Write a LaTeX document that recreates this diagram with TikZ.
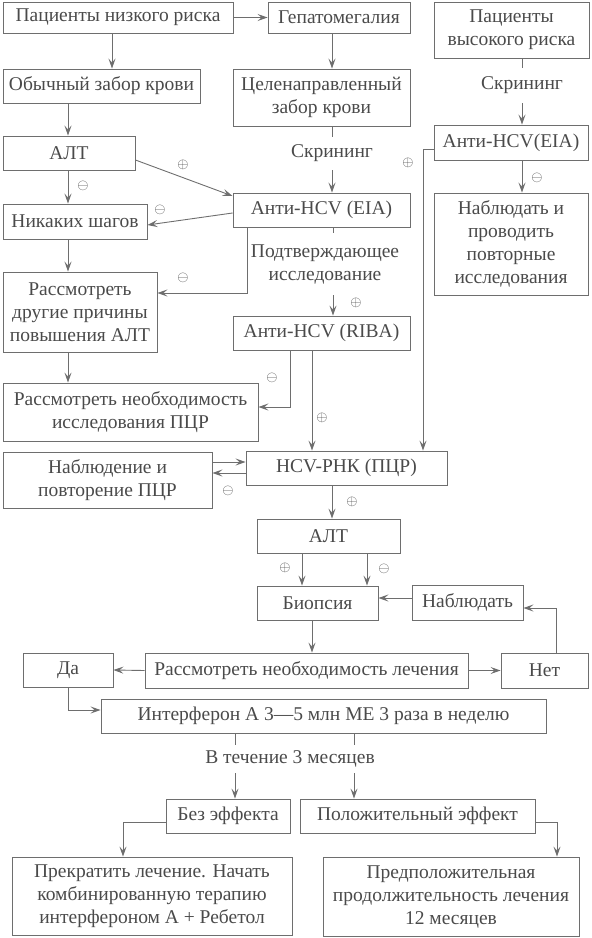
\documentclass[tikz,border=0pt]{standalone}
\usepackage{fontspec}
\setmainfont{Liberation Serif}
\usetikzlibrary{arrows.meta}
\definecolor{schemeInk}{HTML}{4A4A4A}
\definecolor{schemeLine}{HTML}{6E6E6E}

\begin{document}
\begin{tikzpicture}[x=1pt, y=-1pt,
    box/.style={draw=schemeLine, line width=0.9pt, text=schemeInk, inner sep=0pt,
      align=center, font=\fontsize{19.5}{23}\selectfont},
    lbl/.style={text=schemeInk, inner sep=0pt, align=center,
      font=\fontsize{19.5}{23}\selectfont},
    sgn/.style={text=schemeInk, inner sep=0pt, font=\fontsize{15}{15}\selectfont},
    ln/.style={draw=schemeLine, line width=0.9pt},
    arr/.style={ln, -{Stealth[length=10pt, width=7pt, inset=4pt]}}]
  \useasboundingbox (0,0) rectangle (592,938);

  % top row
  \node[box, minimum width=230pt, minimum height=31pt] (lowrisk) at (118,17.5) {Пациенты низкого риска};
  \node[box, minimum width=142pt, minimum height=31pt] (hepato) at (339,17.5) {Гепатомегалия};
  \node[box, minimum width=155pt, minimum height=56pt] (highrisk) at (511.5,30) {Пациенты\\высокого риска};

  \node[box, minimum width=197pt, minimum height=34pt] (routine) at (101.5,86) {Обычный забор крови};
  \node[box, minimum width=177pt, minimum height=57pt] (targeted) at (321.5,97.5) {Целенаправленный\\забор крови};
  \node[lbl, minimum height=35pt] (screenR) at (522,85.5) {Скрининг};
  \node[box, minimum width=154pt, minimum height=35pt] (eiaR) at (511,142.5) {Анти-HCV(EIA)};

  \node[box, minimum width=132pt, minimum height=34pt] (altA) at (69,153) {АЛТ};
  \node[lbl, minimum height=33pt] (screenM) at (332,153.5) {Скрининг};
  \node[box, minimum width=177pt, minimum height=34pt] (eiaM) at (321.5,210) {Анти-HCV (EIA)};
  \node[box, minimum width=154pt, minimum height=102pt] (watch) at (511,244) {Наблюдать и\\проводить\\повторные\\исследования};

  \node[box, minimum width=144pt, minimum height=35pt] (nosteps) at (75,221.5) {Никаких шагов};
  \node[lbl, minimum height=62pt] (confirm) at (325,264) {Подтверждающее\\исследование};
  \node[box, minimum width=154pt, minimum height=80pt] (other) at (80,312) {Рассмотреть\\другие причины\\повышения АЛТ};
  \node[box, minimum width=177pt, minimum height=34pt] (riba) at (321.5,333) {Анти-HCV (RIBA)};
  \node[box, minimum width=255pt, minimum height=58pt] (pcrneed) at (130.5,412) {Рассмотреть необходимость\\исследования ПЦР};

  % PCR and biopsy
  \node[box, minimum width=209pt, minimum height=56pt] (follow) at (107.5,480) {Наблюдение и\\повторение ПЦР};
  \node[box, minimum width=201pt, minimum height=34pt] (rna) at (346.5,468) {HCV-РНК (ПЦР)};
  \node[box, minimum width=143pt, minimum height=34pt] (altB) at (328.5,536) {АЛТ};
  \node[box, minimum width=121pt, minimum height=34pt] (biopsy) at (317.5,603) {Биопсия};
  \node[box, minimum width=111pt, minimum height=35pt] (observe) at (467.5,602.5) {Наблюдать};

  % treatment
  \node[box, minimum width=323pt, minimum height=35pt] (consider) at (306.5,670.5) {Рассмотреть необходимость лечения};
  \node[box, minimum width=90pt, minimum height=34pt] (yes) at (68,670) {Да};
  \node[box, minimum width=87pt, minimum height=35pt] (no) at (544.5,670.5) {Нет};
  \node[box, minimum width=445pt, minimum height=34pt] (ifn) at (323.5,716) {Интерферон А 3—5 млн МЕ 3 раза в неделю};
  \node[lbl, minimum height=28pt] (months) at (290,759) {В течение 3 месяцев};
  \node[box, minimum width=124pt, minimum height=34pt] (noeff) at (228,816) {Без эффекта};
  \node[box, minimum width=235pt, minimum height=34pt] (poseff) at (417.5,816) {Положительный эффект};
  \node[box, minimum width=280pt, minimum height=78pt] (stop) at (152,896) {Прекратить лечение. Начать\\комбинированную терапию\\интерфероном А + Ребетол};
  \node[box, minimum width=256pt, minimum height=79pt] (duration) at (451,896.5) {Предположительная\\продолжительность лечения\\12 месяцев};

  % connectors
  \draw[arr] (lowrisk.east) -- (hepato.west);
  \draw[arr] (lowrisk.south -| 112,0) -- (routine.north -| 112,0);
  \draw[arr] (hepato.south -| 332,0) -- (targeted.north -| 332,0);
  \draw[arr] (routine.south -| 68,0) -- (altA.north -| 68,0);
  \draw[ln] (highrisk.south -| 522,0) -- (screenR.north);
  \draw[arr] (screenR.south) -- (eiaR.north -| 522,0);
  \draw[ln] (targeted.south -| 332,0) -- (screenM.north);
  \draw[arr] (screenM.south) -- (eiaM.north -| 332,0);
  \draw[arr] (altA.south -| 68,0) -- (nosteps.north -| 68,0);
  \draw[arr] (altA.east |- 0,160) -- (eiaM.west |- 0,196);
  \draw[arr] (eiaM.west |- 0,213) -- (nosteps.east |- 0,225);
  \draw[arr] (eiaM.south -| 247,0) |- (other.east |- 0,293);
  \draw[ln] (eiaM.south -| 333,0) -- (confirm.north -| 333,0);
  \draw[arr] (confirm.south -| 333,0) -- (riba.north -| 333,0);
  \draw[arr] (eiaR.south -| 522,0) -- (watch.north -| 522,0);
  \draw[arr] (eiaR.west |- 0,149) -| (rna.north -| 423,0);
  \draw[arr] (nosteps.south -| 68,0) -- (other.north -| 68,0);
  \draw[arr] (other.south -| 68,0) -- (pcrneed.north -| 68,0);
  \draw[arr] (riba.south -| 290,0) |- (pcrneed.east |- 0,407);
  \draw[arr] (riba.south -| 312,0) -- (rna.north -| 312,0);
  \draw[arr] (follow.east |- 0,462) -- (rna.west |- 0,462);
  \draw[arr] (rna.west |- 0,473) -- (follow.east |- 0,473);
  \draw[arr] (rna.south -| 332,0) -- (altB.north -| 332,0);
  \draw[arr] (altB.south -| 302,0) -- (biopsy.north -| 302,0);
  \draw[arr] (altB.south -| 367,0) -- (biopsy.north -| 367,0);
  \draw[arr] (observe.west |- 0,598) -- (biopsy.east |- 0,598);
  \draw[arr] (no.north -| 556,0) |- (observe.east |- 0,608);
  \draw[arr] (biopsy.south -| 312,0) -- (consider.north -| 312,0);
  \draw[arr] (consider.west) -- (yes.east);
  \draw[arr] (consider.east) -- (no.west);
  \draw[arr] (yes.south -| 68,0) |- (ifn.west |- 0,710);
  \draw[ln] (ifn.south -| 235,0) -- (months.north -| 235,0);
  \draw[ln] (ifn.south -| 354,0) -- (months.north -| 354,0);
  \draw[arr] (months.south -| 235,0) -- (noeff.north -| 235,0);
  \draw[arr] (months.south -| 354,0) -- (poseff.north -| 354,0);
  \draw[arr] (noeff.west |- 0,822) -| (stop.north -| 123,0);
  \draw[arr] (poseff.east |- 0,822) -| (duration.north -| 557,0);

  % signs
  \node[sgn] (s1) at (83,186) {$\ominus$};
  \node[sgn] (s2) at (183,165) {$\oplus$};
  \node[sgn] (s3) at (160,210) {$\ominus$};
  \node[sgn] (s4) at (183,278) {$\ominus$};
  \node[sgn] (s5) at (356,303) {$\oplus$};
  \node[sgn] (s6) at (537,178) {$\ominus$};
  \node[sgn] (s7) at (408,163) {$\oplus$};
  \node[sgn] (s8) at (272,378) {$\ominus$};
  \node[sgn] (s9) at (322,418) {$\oplus$};
  \node[sgn] (s10) at (228,491) {$\ominus$};
  \node[sgn] (s11) at (352,502) {$\oplus$};
  \node[sgn] (s12) at (285,568) {$\oplus$};
  \node[sgn] (s13) at (384,569) {$\ominus$};
\end{tikzpicture}
\end{document}
